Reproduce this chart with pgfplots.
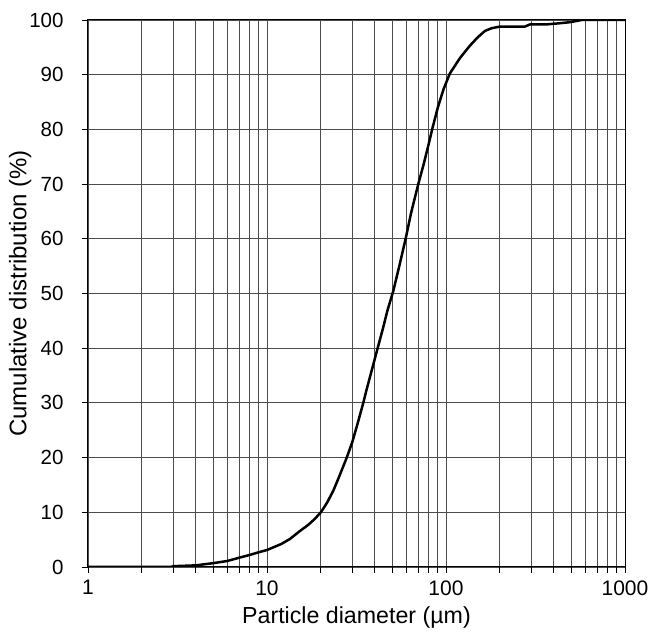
\documentclass[border=0pt]{standalone}
\usepackage{fontspec}
\setmainfont{Liberation Sans}
\usepackage{pgfplots}
\pgfplotsset{compat=1.18}
\begin{document}
\begin{tikzpicture}
\begin{semilogxaxis}[
  scale only axis, width=537pt, height=547pt,
  xmin=1, xmax=1000, ymin=0, ymax=100,
  ytick={0,10,...,100},
  xtick={1,10,100,1000},
  xticklabels={1,10,100,1000},
  minor xtick={2,3,4,5,6,7,8,9,20,30,40,50,60,70,80,90,200,300,400,500,600,700,800,900},
  grid=both,
  major grid style={black!70, line width=0.8pt},
  minor grid style={black!70, line width=0.8pt},
  tick align=outside,
  major tick length=6pt, minor tick length=6pt,
  tick style={black, line width=0.8pt},
  xtick pos=left, ytick pos=left,
  tick label style={font=\fontsize{20.5}{23}\selectfont},
  xticklabel style={inner xsep=0pt, yshift=-4pt, font=\fontsize{21}{23}\selectfont},
  yticklabel style={xshift=-15pt},
  xlabel style={font=\fontsize{23.2}{26}\selectfont, yshift=-4pt},
  ylabel style={font=\fontsize{24}{27}\selectfont, yshift=-9pt},
  /pgf/number format/assume math mode=true,
  xlabel={Particle diameter (µm)},
  ylabel={Cumulative distribution (\%)},
  axis line style={black, line width=1pt},
]
\addplot[black, line width=2.5pt, line join=round] table {
x y
1 0
2 0
2.9 0
3 0.15
4 0.3
5 0.7
6 1.1
7 1.7
8 2.2
9 2.7
10 3.1
12 4.2
13.4 5.1
15.3 6.6
17 7.7
18.5 8.8
20 10
21.7 11.8
23.5 14.0
25 16.1
27.9 20
30 22.9
32 26.1
34.5 30
36 32.4
38 35.3
41.5 40
44.6 43.8
47 46.8
50.8 50.5
55 55.2
59.5 60
63.7 64.6
70 70
75 73.6
79.6 77
84 80.2
90 84
97 87.4
105 90.2
120 93.1
136 95.3
150 96.8
165 98
180 98.5
200 98.8
276 98.8
295 99.2
365 99.2
430 99.4
493 99.6
573 100
1000 100
};
\end{semilogxaxis}
\pgfresetboundingbox
\path[use as bounding box] ([shift={(-88pt,-65pt)}]current axis.south west) rectangle ([shift={(24pt,20pt)}]current axis.north east);
\end{tikzpicture}
\end{document}
